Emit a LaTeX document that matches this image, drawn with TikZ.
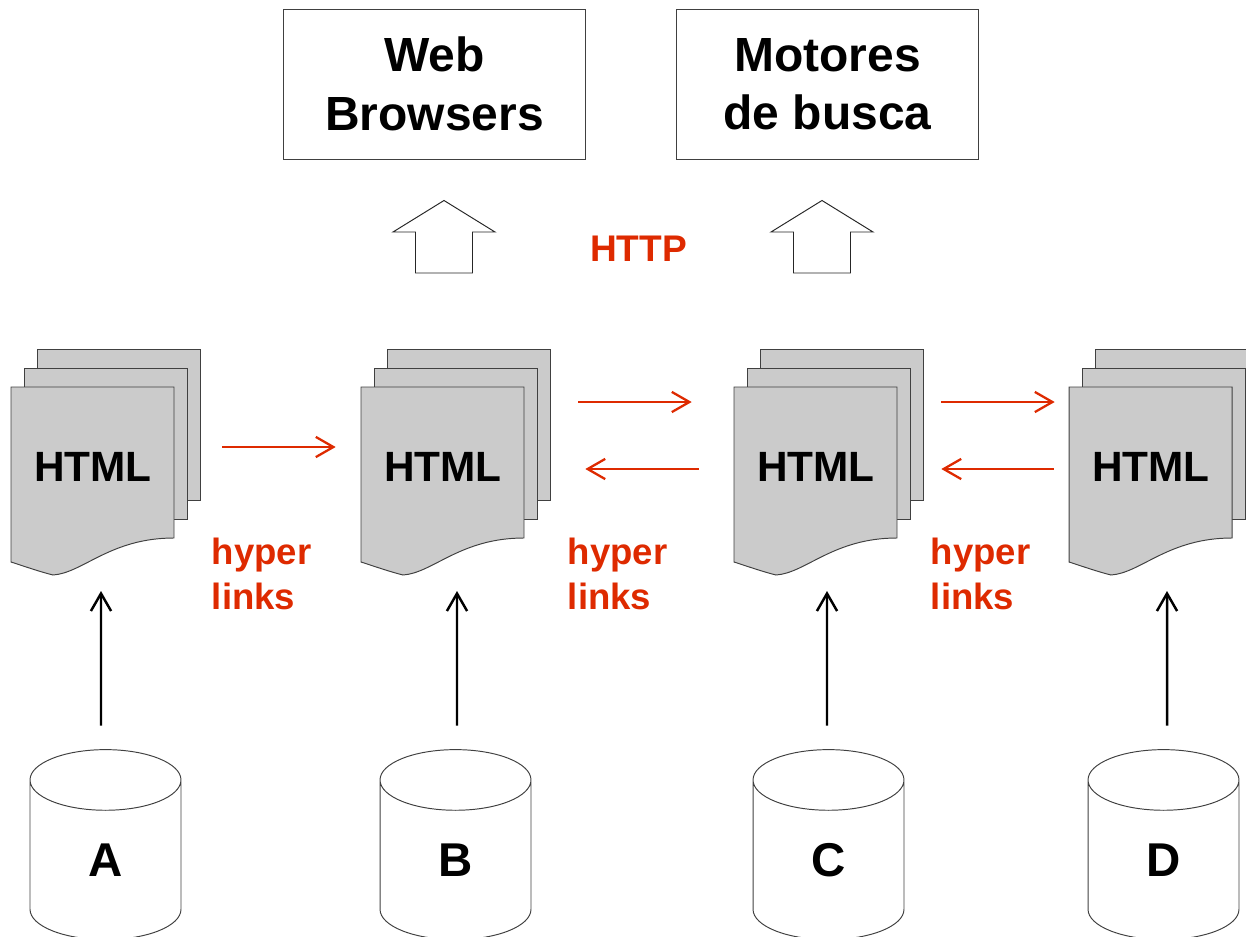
\documentclass[tikz,border=0pt]{standalone}
\usepackage{fontspec}
\setmainfont{Liberation Sans}
\usetikzlibrary{arrows.meta,calc,shapes.geometric}

\definecolor{linkred}{HTML}{DE2A00}
\definecolor{sheetgray}{HTML}{CBCBCB}

\begin{document}
\begin{tikzpicture}[x=0.02cm, y=-0.02cm, > = {Straight Barb[length=10pt,width=11.5pt]},
    sheet/.style = {draw=black!75, line width=0.55pt, fill=sheetgray},
    titlebox/.style = {draw=black!75, line width=0.5pt, minimum width=6.04cm, minimum height=3cm, align=center, font=\fontsize{27.3}{33.5}\selectfont\bfseries},
    doclabel/.style = {minimum width=3.26cm, inner sep=0pt, font=\fontsize{24.1}{28}\selectfont\bfseries},
    database/.style = {cylinder, shape border rotate=90, shape aspect=1.77, draw=black!75, line width=0.55pt, minimum width=3.02cm, minimum height=3.8cm, inner sep=0pt, outer sep=0pt, font=\fontsize{27}{32}\selectfont\bfseries},
    feed/.style = {->, line width=1.4pt},
    hyperlink/.style = {->, linkred, line width=1.3pt},
    redlabel/.style = {linkred, align=left, inner sep=0pt, font=\fontsize{20.8}{25.3}\selectfont\bfseries}]

    \useasboundingbox (0,0) rectangle (1246,936);

    % top boxes
    \node[titlebox, text depth=0pt] (browsers) at (434.5,84) {Web\\Browsers};
    \node[titlebox, text depth=0pt] (engines) at (827.5,84) {Motores\\de busca};

    % hollow arrows
    \foreach \x in {444,822} {
        \draw[draw=black!85, line width=0.55pt] (\x,200.5) -- ++(51,31.5) -- ++(-22.5,0) -- ++(0,41) -- ++(-57,0) -- ++(0,-41) -- ++(-22.5,0) -- cycle;
    }
    \node[redlabel, font=\fontsize{21.1}{25}\selectfont\bfseries] (http) at (638.5,248.5) {HTTP};

    % html documents
    \foreach \name/\x in {A/11,B/361,C/734,D/1069} {
        \draw[sheet] (\x+26,349) rectangle ++(163,151);
        \draw[sheet] (\x+13,368) rectangle ++(163,151);
        \draw[sheet] (\x,387) -- ++(163,0) -- ++(0,151) .. controls (\x+99,538) and (\x+72,573) .. (\x+42,575) .. controls (\x+28,571.5) and (\x+14,566.5) .. (\x,562) -- cycle;
        \node[doclabel] (doc\name) at (\x+82,467) {HTML};
    }

    % databases
    \foreach \name/\x in {A/105.5,B/455.5,C/828.5,D/1163.5} {
        \node[database] (db\name) at (\x,860) {\name};
    }

    % arrows from databases to documents
    \draw[feed] ($(dbA.north)+(-4.5,-24)$) -- ($(docA.center)+(8,124)$);
    \draw[feed] ($(dbB.north)+(1.5,-24)$) -- ($(docB.center)+(14,124)$);
    \draw[feed] ($(dbC.north)+(-1.5,-24)$) -- ($(docC.center)+(11,124)$);
    \draw[feed] ($(dbD.north)+(3.5,-24)$) -- ($(docD.center)+(16,124)$);

    % links between documents
    \draw[hyperlink] ($(docA.east)+(47.5,-20)$) -- ($(docB.west)+(-25.5,-20)$);
    \draw[hyperlink] ($(docB.east)+(53.5,-65)$) -- ($(docC.west)+(-42.5,-65)$);
    \draw[hyperlink] ($(docC.west)+(-35.5,2)$) -- ($(docB.east)+(60.5,2)$);
    \draw[hyperlink] ($(docC.east)+(43.5,-65)$) -- ($(docD.west)+(-14.5,-65)$);
    \draw[hyperlink] ($(docD.west)+(-15.5,2)$) -- ($(docC.east)+(43.5,2)$);

    % link labels
    \node[redlabel, anchor=west] (linksA) at (211.5,574) {hyper\\links};
    \node[redlabel, anchor=west] (linksB) at (567.5,574) {hyper\\links};
    \node[redlabel, anchor=west] (linksC) at (930.5,574) {hyper\\links};

\end{tikzpicture}
\end{document}
